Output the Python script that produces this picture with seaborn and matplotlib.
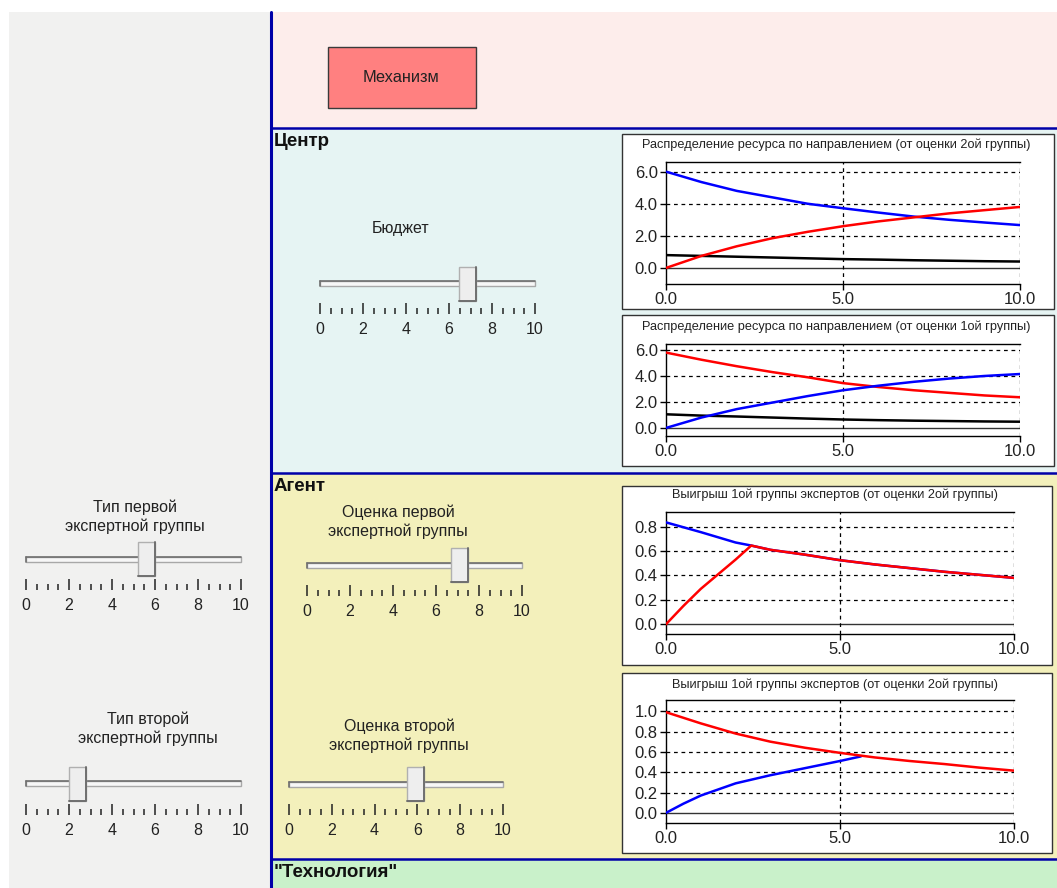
import numpy as np
import pandas as pd
import matplotlib.pyplot as plt
from matplotlib.patches import Rectangle
import seaborn as sns

# ---------------- data ----------------
x_grid = [0, 1, 2, 3, 4, 5, 6, 7, 8, 9, 10]

# Распределение ресурса (от оценки 2ой группы)
res2_blue = [6.0, 5.35, 4.8, 4.4, 4.0, 3.72, 3.45, 3.2, 3.0, 2.83, 2.67]
res2_red = [0.0, 0.75, 1.35, 1.85, 2.25, 2.6, 2.9, 3.15, 3.4, 3.6, 3.8]
res2_black = [0.8, 0.75, 0.7, 0.65, 0.6, 0.55, 0.52, 0.48, 0.45, 0.42, 0.4]

# Распределение ресурса (от оценки 1ой группы)
res1_red = [5.8, 5.25, 4.75, 4.3, 3.9, 3.45, 3.15, 2.9, 2.7, 2.5, 2.36]
res1_blue = [0.0, 0.8, 1.45, 1.95, 2.45, 2.9, 3.25, 3.55, 3.8, 4.0, 4.15]
res1_black = [1.05, 0.95, 0.88, 0.8, 0.72, 0.65, 0.6, 0.56, 0.53, 0.5, 0.48]

# Выигрыш (верхний)
win_a_blue_x = [0, 1, 2, 2.45, 3, 4, 5, 6, 7, 8, 9, 10]
win_a_blue = [0.835, 0.755, 0.67, 0.645, 0.61, 0.57, 0.525, 0.49, 0.46, 0.43, 0.405, 0.38]
win_a_red_x = [0, 0.5, 1, 1.5, 2, 2.45, 3, 4, 5, 6, 7, 8, 9, 10]
win_a_red = [0.0, 0.15, 0.29, 0.41, 0.53, 0.645, 0.61, 0.57, 0.525, 0.49, 0.46, 0.43, 0.405, 0.38]

# Выигрыш (нижний)
win_b_red = [0.99, 0.88, 0.78, 0.70, 0.64, 0.59, 0.545, 0.51, 0.48, 0.445, 0.415]
win_b_blue_x = [0, 0.5, 1, 2, 3, 4, 5, 5.6]
win_b_blue = [0.0, 0.09, 0.17, 0.29, 0.37, 0.44, 0.51, 0.555]

# slider values
budget = 6.85
type_first = 5.6
type_second = 2.4
est_first = 7.1
est_second = 5.9

W, H = 1057, 888

sns.set_style("white")
plt.rcParams['font.family'] = ['Liberation Sans', 'DejaVu Sans']

fig = plt.figure(figsize=(W / 100, H / 100), dpi=100)
fig.patch.set_facecolor('white')


def px_rect(x0, y0, x1, y1):
    return [x0 / W, 1 - y1 / H, (x1 - x0) / W, (y1 - y0) / H]


# background in pixel coordinates
bg = fig.add_axes([0, 0, 1, 1])
bg.set_xlim(0, W)
bg.set_ylim(H, 0)
bg.axis('off')

bg.add_patch(Rectangle((9, 12), 262, H - 12, fc='#f1f1f0', ec='none'))
bg.add_patch(Rectangle((271, 12), W - 271, 116, fc='#fdedeb', ec='none'))
bg.add_patch(Rectangle((271, 128), W - 271, 345, fc='#e6f4f3', ec='none'))
bg.add_patch(Rectangle((271, 473), W - 271, 386, fc='#f3f0bb', ec='none'))
bg.add_patch(Rectangle((271, 859), W - 271, 30, fc='#c9f1ca', ec='none'))
for yy in [128, 473, 859]:
    bg.plot([271, W], [yy, yy], color='#0000a8', lw=1.8)
bg.plot([271, 271], [12, H], color='#0000a8', lw=2.2)

bg.add_patch(Rectangle((328, 47), 148, 61, fc='#ff8080', ec='#3a3a3a', lw=1))
bg.text(401, 78, 'Механизм', ha='center', va='center', fontsize=11.8, color='#222')

head = dict(ha='left', va='center', fontsize=13.5, fontweight='bold', color='#111')
bg.text(274, 141, 'Центр', **head)
bg.text(274, 486, 'Агент', **head)
bg.text(274, 872, '"Технология"', **head)

lbl = dict(ha='center', va='center', fontsize=11.5, color='#222', linespacing=1.3)
bg.text(401, 228, 'Бюджет', **lbl)
bg.text(135, 517, 'Тип первой\nэкспертной группы', **lbl)
bg.text(398, 522, 'Оценка первой\nэкспертной группы', **lbl)
bg.text(148, 729, 'Тип второй\nэкспертной группы', **lbl)
bg.text(399, 736, 'Оценка второй\nэкспертной группы', **lbl)


def slider(x0, x1, ytop, ytrack, ybot, value):
    ax = fig.add_axes(px_rect(x0, ytop, x1, ybot))
    ax.set_facecolor('none')
    ax.set_xlim(0, 10)
    ax.set_ylim(ybot - ytop, 0)
    for s in ax.spines.values():
        s.set_visible(False)
    ty = ytrack - ytop
    ax.add_patch(Rectangle((0, ty - 2.5), 10, 5, fc='#f7f7f7', ec='#a8a8a8', lw=1, clip_on=False))
    ax.plot([0, 10], [ty - 2.5, ty - 2.5], color='#707070', lw=1.2, clip_on=False)
    ax.plot([0, 0], [ty - 2.5, ty + 2.5], color='#707070', lw=1.2, clip_on=False)
    hw = 0.4
    th = 34
    ax.add_patch(Rectangle((value - hw, 0), 2 * hw, th, fc='#eeeeee', ec='#b0b0b0', lw=1, clip_on=False, zorder=3))
    ax.plot([value + hw, value + hw, value - hw], [0, th, th], color='#6f6f6f', lw=1.4, clip_on=False, zorder=4)
    ax.set_yticks([])
    ax.set_xticks(range(0, 11, 2))
    ax.set_xticks(np.arange(0, 10.01, 0.5), minor=True)
    ax.tick_params(axis='x', which='major', direction='in', length=8, width=1.1, bottom=True,
                   color='#222', labelsize=11.5, labelcolor='#222', pad=6)
    ax.tick_params(axis='x', which='minor', direction='in', length=4.5, width=1.1, bottom=True,
                   color='#222')
    return ax


slider(320, 535, 267, 283, 314, budget)
slider(26, 241, 542, 559, 590, type_first)
slider(307, 522, 548, 565, 596, est_first)
slider(26, 241, 767, 783, 815, type_second)
slider(289, 503, 767, 784, 815, est_second)


def chart(box, rect, title, title_y, df, ylim, yticks, palette):
    bg.add_patch(Rectangle((box[0], box[1]), box[2] - box[0], box[3] - box[1],
                           fc='white', ec='#333', lw=1))
    bg.text((box[0] + box[2]) / 2 - 2, title_y, title, ha='center', va='center',
            fontsize=9.2, color='#222')
    ax = fig.add_axes(px_rect(*rect))
    ax.set_facecolor('white')
    for yt in yticks:
        if yt == 0:
            ax.axhline(0, color='#333', lw=1, zorder=1)
        else:
            ax.axhline(yt, color='black', lw=0.9, ls=(0, (3, 3)), zorder=1)
    for xv in [5, 10]:
        ax.axvline(xv, color='black', lw=0.9, ls=(0, (3, 3)), zorder=1)
    sns.lineplot(data=df, x='x', y='y', hue='series', palette=palette,
                 estimator=None, sort=False, lw=1.8, legend=False, ax=ax, zorder=3)
    ax.set_xlim(0, 10)
    ax.set_ylim(*ylim)
    ax.set_xticks([0, 5, 10])
    ax.set_xticklabels(['0.0', '5.0', '10.0'])
    ax.set_yticks(yticks)
    ax.set_yticklabels([f'{v:.1f}' for v in yticks])
    ax.set_xlabel('')
    ax.set_ylabel('')
    ax.spines['right'].set_visible(False)
    for s in ['left', 'bottom', 'top']:
        ax.spines[s].set_color('black')
        ax.spines[s].set_linewidth(1)
    ax.tick_params(axis='both', direction='out', length=4, width=1, color='black',
                   labelsize=12, labelcolor='#222', pad=2, left=True, bottom=True)
    return ax


def frame(pairs):
    parts = []
    for name, xs, ys in pairs:
        parts.append(pd.DataFrame({'x': xs, 'y': ys, 'series': name}))
    return pd.concat(parts, ignore_index=True)


pal = {'black': '#000000', 'blue': '#0000ff', 'red': '#ff0000'}

chart((622, 134, 1054, 309), (666, 162, 1020, 284),
      'Распределение ресурса по направлением (от оценки 2ой группы)', 145,
      frame([('black', x_grid, res2_black), ('blue', x_grid, res2_blue), ('red', x_grid, res2_red)]),
      (-1.0, 6.6), [0.0, 2.0, 4.0, 6.0], pal)

chart((622, 315, 1054, 466), (666, 344, 1020, 436),
      'Распределение ресурса по направлением (от оценки 1ой группы)', 327,
      frame([('black', x_grid, res1_black), ('red', x_grid, res1_red), ('blue', x_grid, res1_blue)]),
      (-0.62, 6.46), [0.0, 2.0, 4.0, 6.0], pal)

chart((622, 486, 1052, 665), (666, 512, 1014, 634),
      'Выигрыш 1ой группы экспертов (от оценки 2ой группы)', 495,
      frame([('blue', win_a_blue_x, win_a_blue), ('red', win_a_red_x, win_a_red)]),
      (-0.08, 0.92), [0.0, 0.2, 0.4, 0.6, 0.8], pal)

chart((622, 673, 1052, 853), (666, 700, 1014, 823),
      'Выигрыш 1ой группы экспертов (от оценки 2ой группы)', 685,
      frame([('blue', win_b_blue_x, win_b_blue), ('red', x_grid, win_b_red)]),
      (-0.1, 1.11), [0.0, 0.2, 0.4, 0.6, 0.8, 1.0], pal)

fig.savefig('out.png', dpi=100)
